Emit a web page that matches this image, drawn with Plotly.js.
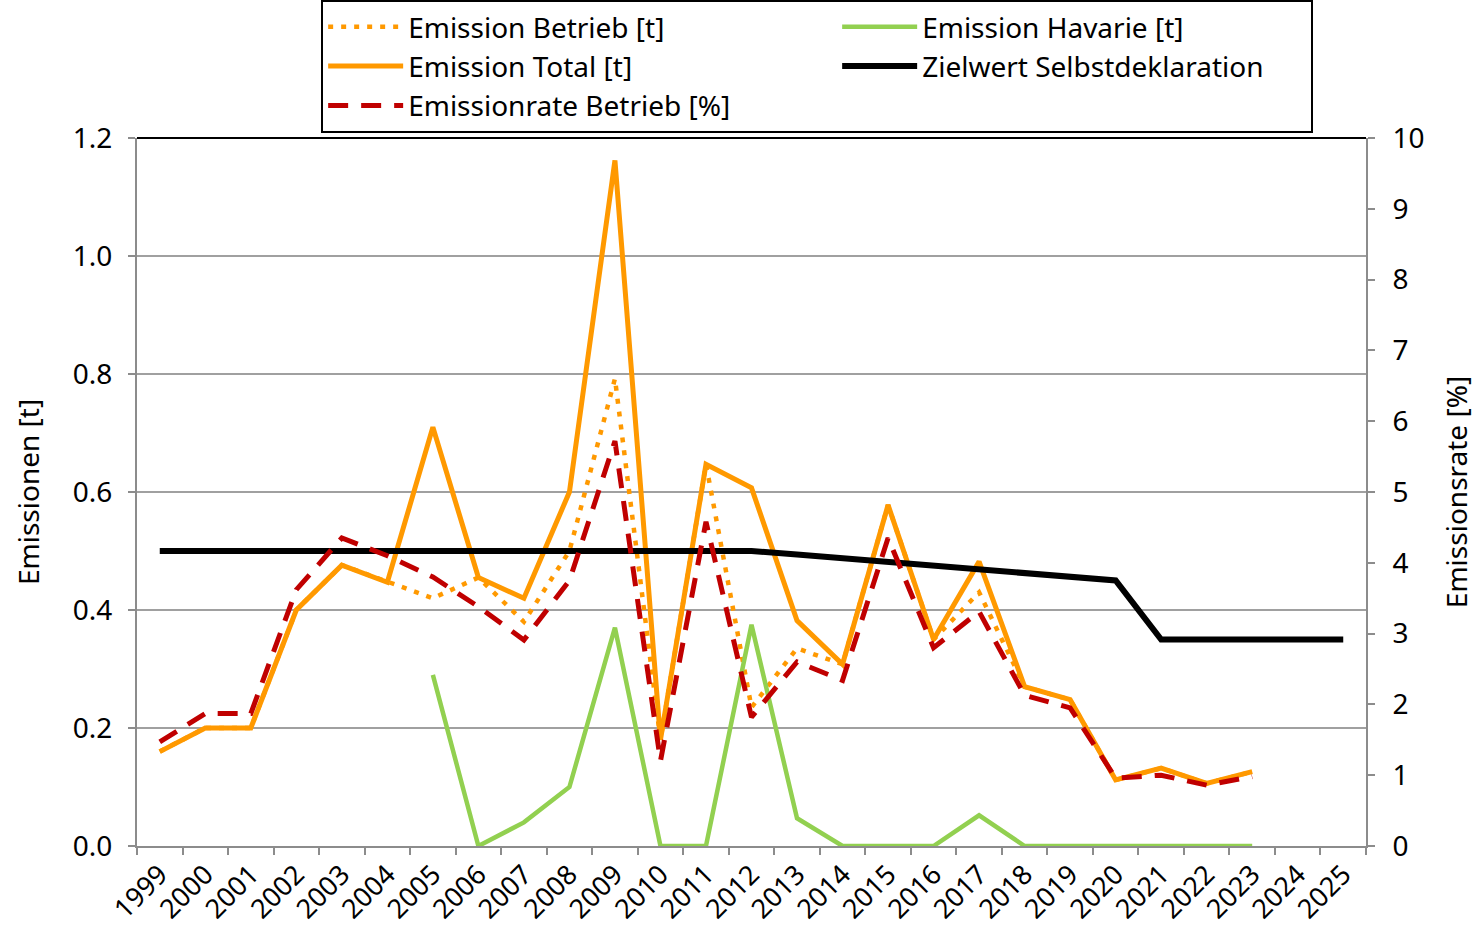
<!DOCTYPE html>
<html>
<head>
<meta charset="utf-8">
<script src="https://cdn.plot.ly/plotly-3.0.1.min.js"></script>
<style>html,body{margin:0;padding:0;background:#fff;}#chart{width:1475px;height:939px;}</style>
</head>
<body>
<div id="chart"></div>
<script>
const years = ['1999','2000','2001','2002','2003','2004','2005','2006','2007','2008','2009','2010','2011','2012','2013','2014','2015','2016','2017','2018','2019','2020','2021','2022','2023','2024','2025'];
const emissionBetrieb = [0.16,0.20,0.20,0.40,0.476,0.447,0.42,0.455,0.38,0.50,0.792,0.18,0.647,0.235,0.335,0.308,0.578,0.35,0.43,0.27,0.248,0.112,0.132,0.106,0.126,null,null];
const emissionHavarie = [null,null,null,null,null,null,0.29,0,0.04,0.10,0.37,0,0,0.375,0.047,0,0,0,0.052,0,0,0,0,0,0,null,null];
const emissionTotal = [0.16,0.20,0.20,0.40,0.476,0.447,0.71,0.455,0.42,0.60,1.162,0.18,0.647,0.607,0.382,0.308,0.578,0.35,0.482,0.27,0.248,0.112,0.132,0.106,0.126,null,null];
const zielwert = [0.5,0.5,0.5,0.5,0.5,0.5,0.5,0.5,0.5,0.5,0.5,0.5,0.5,0.5,0.494,0.488,0.482,0.475,0.469,0.463,0.457,0.45,0.35,0.35,0.35,0.35,0.35];
const emissionsrate = [1.47,1.87,1.87,3.62,4.35,4.1,3.8,3.38,2.91,3.75,5.72,1.2,4.58,1.82,2.6,2.34,4.35,2.8,3.31,2.13,1.95,0.96,1.0,0.86,0.98,null,null];

const FONT = '"Noto Sans", "Open Sans", sans-serif';
const GRAY = '#8c8c8c';
const FS = 28;

const traces = [
  {x: years, y: emissionBetrieb, name: 'Emission Betrieb [t]', type: 'scatter', mode: 'lines',
   legendwidth: 424, line: {color: '#FF9900', width: 4.5, dash: '5px,8px'}},
  {x: years, y: emissionHavarie, name: 'Emission Havarie [t]', type: 'scatter', mode: 'lines',
   legendwidth: 384, line: {color: '#92D050', width: 4.5}},
  {x: years, y: emissionTotal, name: 'Emission Total [t]', type: 'scatter', mode: 'lines',
   legendwidth: 424, line: {color: '#FF9900', width: 5}},
  {x: years, y: zielwert, name: 'Zielwert Selbstdeklaration', type: 'scatter', mode: 'lines',
   legendwidth: 384, line: {color: '#000000', width: 6}},
  {x: years, y: emissionsrate, name: 'Emissionrate Betrieb [%]', type: 'scatter', mode: 'lines',
   legendwidth: 424, yaxis: 'y2', line: {color: '#C00000', width: 5, dash: '20px,13px'}}
];

const layout = {
  width: 1475, height: 939,
  margin: {l: 137, r: 109, t: 138, b: 93, autoexpand: false},
  paper_bgcolor: '#ffffff', plot_bgcolor: '#ffffff',
  font: {family: FONT, color: '#000', size: FS},
  showlegend: true,
  legend: {
    orientation: 'h', x: (321 - 137) / 1228, xanchor: 'left', y: 846 / 708, yanchor: 'top',
    bgcolor: '#ffffff', bordercolor: '#000', borderwidth: 2,
    itemwidth: 75, entrywidth: 424, entrywidthmode: 'pixels',
    font: {family: FONT, size: FS, color: '#000'}, traceorder: 'normal'
  },
  xaxis: {
    type: 'category', range: [-0.5, 26.5], tickson: 'boundaries', automargin: false,
    ticks: 'outside', ticklen: 7, tickwidth: 2, tickcolor: GRAY,
    showline: true, linecolor: GRAY, linewidth: 2, showgrid: false,
    tickangle: -45, tickfont: {family: FONT, size: 27, color: '#000'}, fixedrange: true
  },
  yaxis: {
    range: [0, 1.2], dtick: 0.2, tickformat: '.1f', automargin: false,
    ticks: 'outside', ticklen: 7, tickwidth: 2, tickcolor: GRAY, ticklabelstandoff: 10,
    showline: true, linecolor: GRAY, linewidth: 2,
    showgrid: true, gridcolor: '#a0a0a0', gridwidth: 2, zeroline: false,
    tickfont: {family: FONT, size: FS, color: '#000'},
    title: {text: 'Emissionen [t]', font: {family: FONT, size: FS, color: '#000'}, standoff: 25}
  },
  yaxis2: {
    overlaying: 'y', side: 'right', range: [0, 10], dtick: 1, automargin: false,
    ticks: 'outside', ticklen: 7, tickwidth: 2, tickcolor: GRAY, ticklabelstandoff: 12,
    showline: true, linecolor: GRAY, linewidth: 2, showgrid: false, zeroline: false,
    tickfont: {family: FONT, size: FS, color: '#000'},
    title: {text: 'Emissionsrate [%]', font: {family: FONT, size: FS, color: '#000'}, standoff: 24}
  },
  shapes: [
    {type: 'line', xref: 'paper', yref: 'paper', x0: 0, x1: 1, y0: 1, y1: 1,
     line: {color: '#000', width: 2}}
  ]
};

Plotly.newPlot('chart', traces, layout, {displayModeBar: false, staticPlot: true});
</script>
</body>
</html>
